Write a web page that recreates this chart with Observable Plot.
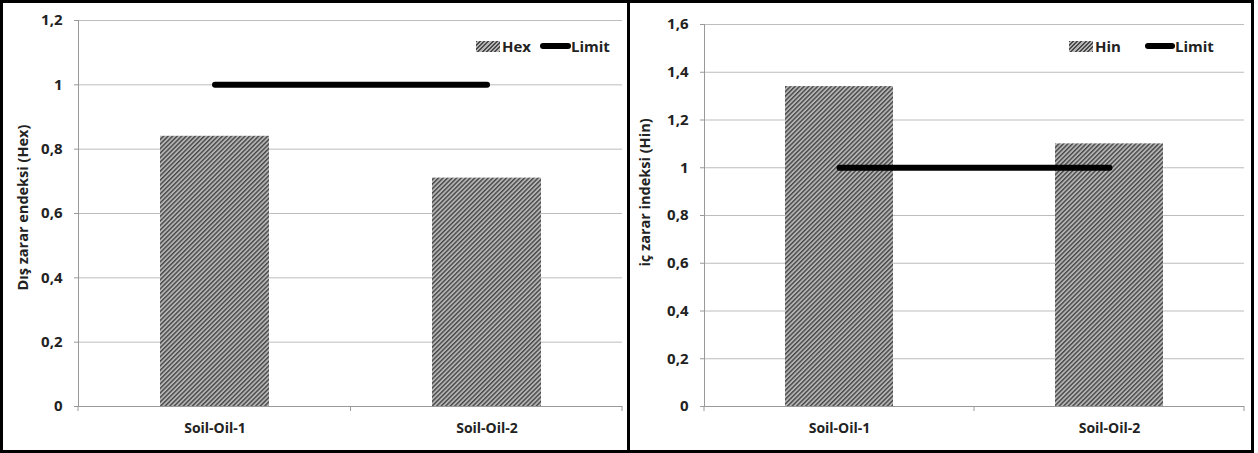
<!DOCTYPE html>
<html>
<head>
<meta charset="utf-8">
<script src="https://cdn.jsdelivr.net/npm/d3@7"></script>
<script src="https://cdn.jsdelivr.net/npm/@observablehq/plot@0.6"></script>
<style>
  html, body { margin: 0; padding: 0; background: #fff; }
  body { width: 1258px; height: 453px; position: relative; overflow: hidden; font-family: "Open Sans", sans-serif; }
  .panel { position: absolute; top: 0; }
  .border { position: absolute; top: 0; height: 453px; box-sizing: border-box; border: 3px solid #000; pointer-events: none; }
  .legend { position: absolute; display: flex; align-items: center; font-weight: bold; font-size: 15px; color: #222; white-space: nowrap; }
  .sw { display: inline-block; width: 24px; height: 11px;
        background: repeating-linear-gradient(-45deg, #4a4a4a 0 1.3px, #b4b4b4 1.3px 3px); }
  .ln { display: inline-block; height: 6px; background: #000; border-radius: 3px; }
</style>
</head>
<body>
<div id="left" class="panel" style="left:0px"></div>
<div id="right" class="panel" style="left:627px"></div>
<div class="border" style="left:0px; width:630px"></div>
<div class="border" style="left:627px; width:627px"></div>

<div class="legend" style="left:476px; top:36px">
  <span class="sw"></span><span style="margin-left:2px">Hex</span>
  <span class="ln" style="width:31px; margin-left:9px"></span><span>Limit</span>
</div>
<div class="legend" style="left:1069px; top:36px">
  <span class="sw"></span><span style="margin-left:2px">Hin</span>
  <span class="ln" style="width:30px; margin-left:24px"></span><span>Limit</span>
</div>

<script>
// ---- data ----
const categories = ["Soil-Oil-1", "Soil-Oil-2"];
const hexValues = [0.84, 0.71];
const hinValues = [1.34, 1.10];
const limitValue = 1;
const hexTicks = [0, 0.2, 0.4, 0.6, 0.8, 1, 1.2];
const hinTicks = [0, 0.2, 0.4, 0.6, 0.8, 1, 1.2, 1.4, 1.6];
const hexLabel = "Dış zarar endeksi (Hex)";
const hinLabel = "iç zarar indeksi (Hin)";

const fmt = d => String(d).replace(".", ",");

function makeChart({values, ticks, label, patternId, width, marginLeft, marginRight, marginTop, labelDx, labelDy}) {
  const bars = categories.map((c, i) => ({cat: c, v: values[i]}));
  const limit = categories.map(c => ({cat: c, v: limitValue}));
  const chart = Plot.plot({
    width, height: 453,
    marginLeft, marginRight, marginTop, marginBottom: 47,
    style: {fontFamily: "Open Sans, sans-serif", fontSize: "14px", fontWeight: "bold", color: "#222", background: "transparent"},
    x: {domain: categories, paddingInner: 0.6, paddingOuter: 0.3, label: null},
    y: {domain: [ticks[0], ticks[ticks.length - 1]], label: null},
    marks: [
      Plot.gridY(ticks, {stroke: "#bdbdbd", strokeOpacity: 1}),
      Plot.axisY(ticks, {tickFormat: fmt, tickSize: 4, tickPadding: 12, stroke: "#999", label: null, fontWeight: "bold", fontSize: 15}),
      Plot.axisX({tickSize: 0, tickPadding: 17, label: null, fontWeight: "bold", fontSize: 14}),
      Plot.barY(bars, {x: "cat", y: "v", fill: `url(#${patternId})`}),
      Plot.ruleY([0], {stroke: "#999"}),
      Plot.frame({anchor: "left", stroke: "#999"}),
      Plot.lineY(limit, {x: "cat", y: "v", stroke: "#000", strokeWidth: 6, strokeLinecap: "round"}),
      Plot.text([label], {frameAnchor: "left", textAnchor: "middle", rotate: -90, dx: labelDx, dy: labelDy, fontSize: 14.5, fontWeight: "bold", fill: "#222"})
    ]
  });
  // hatch pattern
  const svg = d3.select(chart);
  const defs = svg.insert("defs", ":first-child");
  const p = defs.append("pattern").attr("id", patternId)
    .attr("patternUnits", "userSpaceOnUse").attr("width", 3.2).attr("height", 3.2)
    .attr("patternTransform", "rotate(45)");
  p.append("rect").attr("width", 3.2).attr("height", 3.2).attr("fill", "#b4b4b4");
  p.append("rect").attr("width", 1.4).attr("height", 3.2).attr("fill", "#474747");
  // category separator ticks from the x scale
  const xs = chart.scale("x"), ys = chart.scale("y");
  const y0 = ys.apply(0);
  const bounds = [xs.range[0],
    (xs.apply(categories[0]) + xs.bandwidth + xs.apply(categories[1])) / 2,
    xs.range[1]];
  svg.append("g").selectAll("line").data(bounds).join("line")
    .attr("x1", d => d).attr("x2", d => d).attr("y1", y0).attr("y2", y0 + 5)
    .attr("stroke", "#999");
  return chart;
}

document.getElementById("left").append(makeChart({
  values: hexValues, ticks: hexTicks, label: hexLabel, patternId: "hatchL",
  width: 627, marginLeft: 78, marginRight: 5, marginTop: 20, labelDx: -55, labelDy: -6
}));
document.getElementById("right").append(makeChart({
  values: hinValues, ticks: hinTicks, label: hinLabel, patternId: "hatchR",
  width: 627, marginLeft: 77, marginRight: 10, marginTop: 24, labelDx: -59, labelDy: -23
}));
</script>
</body>
</html>
